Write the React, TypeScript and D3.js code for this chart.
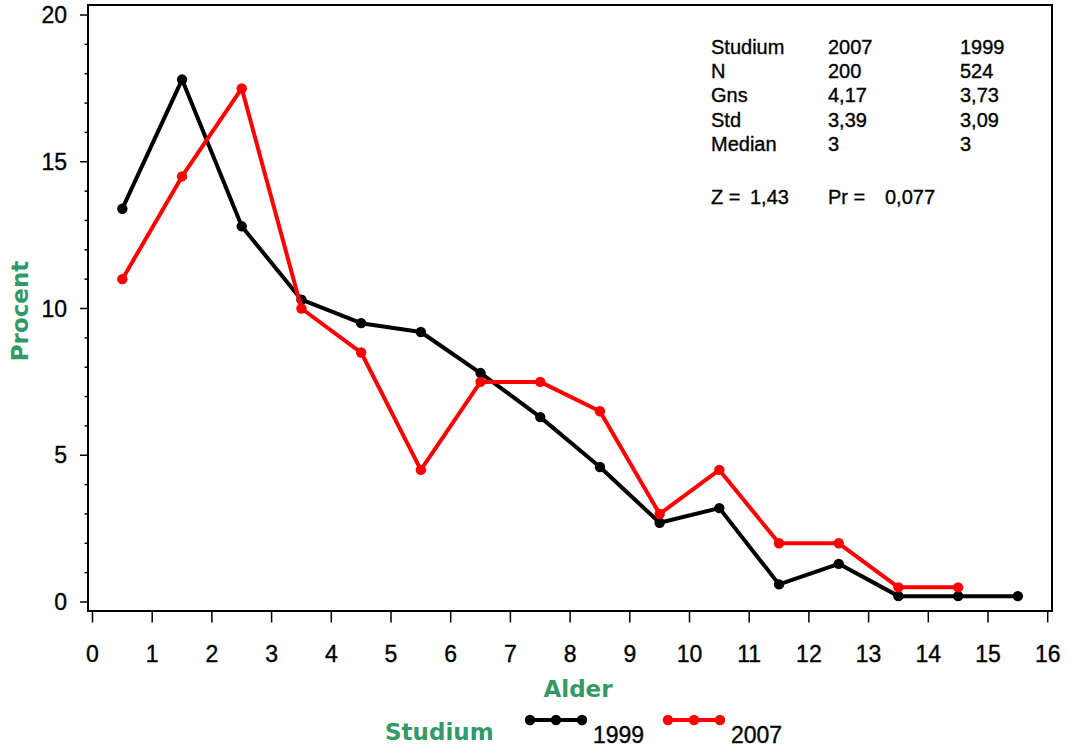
import React from "react";
import * as d3 from "d3";

const ages = [0.5, 1.5, 2.5, 3.5, 4.5, 5.5, 6.5, 7.5, 8.5, 9.5, 10.5, 11.5, 12.5, 13.5, 14.5, 15.5];
const values1999 = [13.4, 17.8, 12.8, 10.3, 9.5, 9.2, 7.8, 6.3, 4.6, 2.7, 3.2, 0.6, 1.3, 0.2, 0.2, 0.2];
const values2007 = [11.0, 14.5, 17.5, 10.0, 8.5, 4.5, 7.5, 7.5, 6.5, 3.0, 4.5, 2.0, 2.0, 0.5, 0.5];
const xTicks = d3.range(0, 17, 1);
const yMajorTicks = [0, 5, 10, 15, 20];
const yMinorTicks = d3.range(0, 21, 1);

const statsRows = [
  ["Studium", "2007", "1999"],
  ["N", "200", "524"],
  ["Gns", "4,17", "3,73"],
  ["Std", "3,39", "3,09"],
  ["Median", "3", "3"],
];
const testRow = ["Z =", "1,43", "Pr =", "0,077"];

const series = [
  { name: "1999", values: values1999, color: "#000000" },
  { name: "2007", values: values2007, color: "#ff0000" },
];

const GREEN = "#339966";

export default function App() {
  const W = 1069, H = 749;
  const frame = { left: 88, right: 1052, top: 5, bottom: 611 };
  const x = d3.scaleLinear().domain([0, 16]).range([92.5, 1047.7]);
  const y = d3.scaleLinear().domain([0, 20]).range([602, 15]);
  const line = d3.line<[number, number]>().x(d => x(d[0])).y(d => y(d[1]));

  const txtFont = "'Liberation Sans', Arial, sans-serif";
  const titleFont = "'DejaVu Sans', Verdana, sans-serif";
  const heavy = { stroke: "#000", strokeWidth: 0.35 };

  return (
    <svg width={W} height={H} style={{ position: "absolute", left: 0, top: 0, background: "#fff" }}>
      <rect x={0} y={0} width={W} height={H} fill="#fff" />
      {/* frame */}
      <rect x={frame.left} y={frame.top} width={frame.right - frame.left} height={frame.bottom - frame.top}
        fill="none" stroke="#000" strokeWidth={2} />
      {/* y ticks */}
      {yMinorTicks.map(t => (
        <line key={"ym" + t} x1={yMajorTicks.includes(t) ? 80 : 84.5} x2={frame.left} y1={y(t)} y2={y(t)}
          stroke="#000" strokeWidth={1.5} />
      ))}
      {yMajorTicks.map(t => (
        <text key={"yl" + t} x={67} y={y(t) + 8} textAnchor="end" fontFamily={txtFont} fontSize={23} {...heavy}>{t}</text>
      ))}
      {/* x ticks */}
      {xTicks.map(t => (
        <g key={"xt" + t}>
          <line x1={x(t)} x2={x(t)} y1={frame.bottom} y2={622.5} stroke="#000" strokeWidth={1.5} />
          <text x={x(t)} y={662} textAnchor="middle" fontFamily={txtFont} fontSize={23} {...heavy}>{t}</text>
        </g>
      ))}
      {/* axis titles */}
      <text x={578} y={697} textAnchor="middle" fontFamily={titleFont} fontWeight="bold" fontSize={23} fill={GREEN}>Alder</text>
      <text transform={`translate(28,311) rotate(-90)`} textAnchor="middle" fontFamily={titleFont} fontWeight="bold"
        fontSize={23} fill={GREEN}>Procent</text>
      {/* series */}
      {series.map(s => {
        const pts = s.values.map((v, i) => [ages[i], v] as [number, number]);
        return (
          <g key={s.name}>
            <path d={line(pts) || ""} fill="none" stroke={s.color} strokeWidth={4} strokeLinejoin="round" />
            {pts.map((p, i) => (
              <circle key={i} cx={x(p[0])} cy={y(p[1])} r={5.2} fill={s.color} />
            ))}
          </g>
        );
      })}
      {/* stats */}
      {statsRows.map((row, i) => (
        <g key={"sr" + i} fontFamily={txtFont} fontSize={20} {...heavy}>
          <text x={711} y={53.5 + i * 24.4}>{row[0]}</text>
          <text x={828} y={53.5 + i * 24.4}>{row[1]}</text>
          <text x={960} y={53.5 + i * 24.4}>{row[2]}</text>
        </g>
      ))}
      <g fontFamily={txtFont} fontSize={20} {...heavy}>
        <text x={711} y={203.5}>{testRow[0]}</text>
        <text x={750} y={203.5}>{testRow[1]}</text>
        <text x={828} y={203.5}>{testRow[2]}</text>
        <text x={885} y={203.5}>{testRow[3]}</text>
      </g>
      {/* legend */}
      <text x={385} y={740} fontFamily={titleFont} fontWeight="bold" fontSize={23} fill={GREEN}>Studium</text>
      {series.map((s, i) => {
        const x0 = i === 0 ? 530 : 668;
        const xs = [x0, x0 + 26, x0 + 52];
        return (
          <g key={"lg" + s.name}>
            <line x1={xs[0]} x2={xs[2]} y1={720} y2={720} stroke={s.color} strokeWidth={4} />
            {xs.map((cx, j) => <circle key={j} cx={cx} cy={720} r={5.2} fill={s.color} />)}
            <text x={x0 + 63} y={743} fontFamily={txtFont} fontSize={23} {...heavy}>{s.name}</text>
          </g>
        );
      })}
    </svg>
  );
}
